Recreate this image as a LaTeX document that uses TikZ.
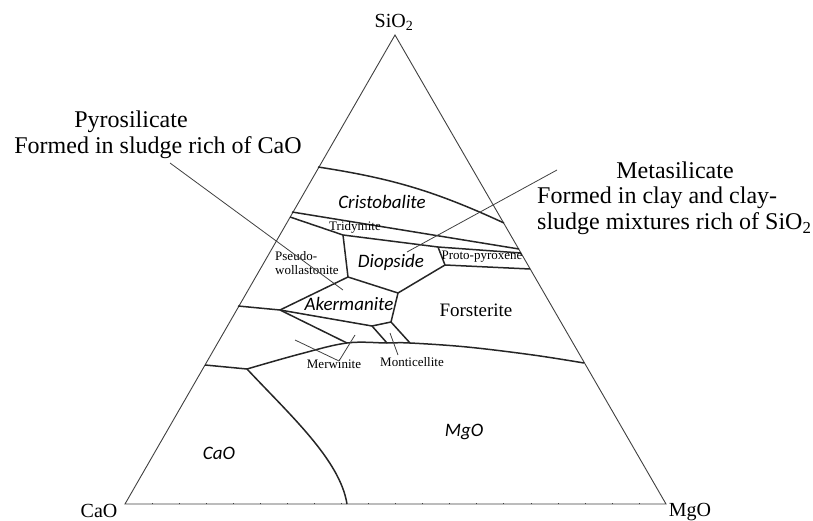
\documentclass[tikz,border=0pt]{standalone}
\usepackage{fontspec}
\setmainfont{Liberation Serif}
\newfontfamily\calfont{Carlito}
\usetikzlibrary{calc}
\tikzset{
  side/.style={line width=0.9pt, black!75},
  bound/.style={line width=1.5pt, black!85, line join=round},
  leader/.style={line width=0.8pt, black!75},
  phase/.style={font=\calfont\itshape\fontsize{19}{22}\selectfont, inner sep=0pt},
  mineral/.style={font=\fontsize{13}{14}\selectfont, inner sep=0pt},
  note/.style={font=\fontsize{24}{26}\selectfont, inner sep=0pt},
  oxide/.style={font=\fontsize{20}{22}\selectfont, inner sep=0pt}
}
\begin{document}
\begin{tikzpicture}[x=1pt, y=-1pt]
  \useasboundingbox (0,0) rectangle (813,521);
  % corners of the triangle
  \coordinate (si) at (395,35);
  \coordinate (ca) at (125,504);
  \coordinate (mg) at (666,504);
  \draw[side] (ca) -- (si) -- (mg) -- cycle;
  \foreach \i in {1,...,19}
    \draw[side, line width=0.5pt] ($(ca)!\i/20!(mg)$) -- ++(0,-1.5);
  \node[oxide] (sio2) at (394,22) {SiO\textsubscript{2}};
  \node[oxide] (cao) at (99,511) {CaO};
  \node[oxide] (mgo) at (690,512) {MgO};

  % junctions of the phase boundaries
  \coordinate (c1l) at (318,167);
  \coordinate (c1r) at (504,223);
  \coordinate (t1l) at (292,212);
  \coordinate (t1r) at (519,249);
  \coordinate (t2l) at (290,217);
  \coordinate (t2r) at (521,253);
  \coordinate (j1) at (343,235);
  \coordinate (j2) at (348,277);
  \coordinate (j3) at (398,293);
  \coordinate (j4) at (391,322);
  \coordinate (j5) at (372,326);
  \coordinate (j6) at (247,369);
  \coordinate (p1) at (438,247);
  \coordinate (p2) at (445,265);
  \coordinate (p3) at (530,269);
  \coordinate (al) at (280,310);
  \coordinate (l2) at (238,306);
  \coordinate (l3) at (205,365);
  \coordinate (m0) at (347,343);
  \coordinate (m1) at (387,343);
  \coordinate (m2) at (410,343);
  \coordinate (r4) at (584,363);
  \coordinate (b1) at (347,504);

  \begin{scope}[bound]
    \draw (c1l) to[bend left=8] (c1r);
    \draw (t1l) -- (t1r);
    \draw (t2l) -- (j1) -- (p1) -- (t2r);
    \draw (j1) -- (j2) -- (j3) -- (p2) -- (p3);
    \draw (p1) -- (p2);
    \draw (j2) -- (al);
    \draw (l2) -- (al) -- (j5) -- (j4) -- (j3);
    \draw (al) -- (m0);
    \draw (j5) -- (m1);
    \draw (j4) -- (m2);
    \draw (l3) -- (j6);
    \draw plot[smooth, tension=0.6] coordinates {(j6) (300,354) (m0) (m1) (m2) (467,347) (533,355) (r4)};
    \draw (j6) .. controls (290,415) and (340,460) .. (b1);
  \end{scope}

  % phase fields
  \node[phase] (cristo) at (382,202) {Cristobalite};
  \node[phase] (diop) at (391,262) {Diopside};
  \node[phase] (aker) at (349,304) {Akermanite};
  \node[phase] (caoreg) at (219,453) {CaO};
  \node[phase] (mgoreg) at (464,432) {MgO};
  \node[font=\fontsize{19}{22}\selectfont, inner sep=0pt] (forst) at (476,310) {Forsterite};
  \node[mineral] (trid) at (355,227) {Tridymite};
  \node[mineral, align=left, anchor=west] (pseudo) at (275,263) {Pseudo-\\wollastonite};
  \node[mineral] (proto) at (482,257) {Proto-pyroxene};
  \node[mineral] (merw) at (334,364) {Merwinite};
  \node[mineral] (monti) at (412,362) {Monticellite};

  % notes
  \node[note] (pyrotitle) at (131,122) {Pyrosilicate};
  \node[note] (pyrotext) at (158,148) {Formed in sludge rich of CaO};
  \node[note] (metatitle) at (675,170) {Metasilicate};
  \node[note, align=left, anchor=west] (metatext) at (537,211)
    {Formed in clay and clay-\\sludge mixtures rich of SiO\textsubscript{2}};

  % leader lines
  \coordinate (pyroa) at (170,163);
  \coordinate (pyrob) at (343,290);
  \coordinate (metaa) at (557,170);
  \coordinate (metab) at (407,252);
  \coordinate (merwa) at (295,340);
  \coordinate (merwb) at (355,335);
  \coordinate (merwc) at (339,361);
  \coordinate (montia) at (390,333);
  \coordinate (montib) at (398,355);
  \begin{scope}[leader]
    \draw (pyroa) -- (pyrob);
    \draw (metaa) -- (metab);
    \draw (merwa) -- (merwc);
    \draw (merwb) -- (merwc);
    \draw (montia) -- (montib);
  \end{scope}
\end{tikzpicture}
\end{document}
